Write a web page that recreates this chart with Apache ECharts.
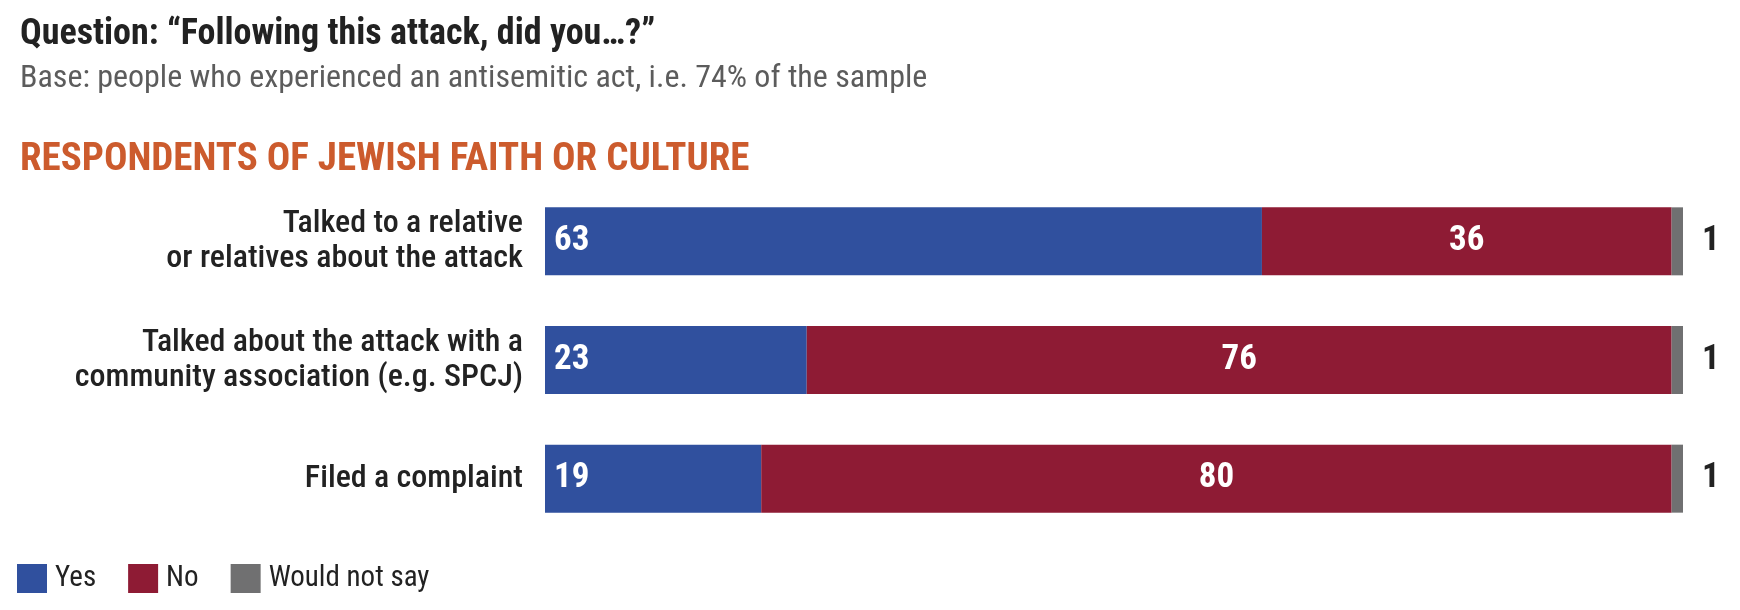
<!DOCTYPE html>
<html>
<head>
<meta charset="utf-8">
<title>Following this attack, did you...?</title>
<script src="https://cdn.jsdelivr.net/npm/echarts@6/dist/echarts.min.js"></script>
<style>
  html, body { margin: 0; padding: 0; background: #fff; }
  #chart { width: 1740px; height: 610px; }
</style>
</head>
<body>
<div id="chart"></div>
<script>
// data (percent)
var categories = [
    'Talked to a relative\nor relatives about the attack',
    'Talked about the attack with a\ncommunity association (e.g. SPCJ)',
    'Filed a complaint'
];
var seriesNames = ['Yes', 'No', 'Would not say'];
var yesValues = [63, 23, 19];
var noValues = [36, 76, 80];
var notSayValues = [1, 1, 1];

var FONT = "'Liberation Sans Narrow', 'Arial Narrow', 'Roboto Condensed', 'Liberation Sans', sans-serif";

var chart = echarts.init(document.getElementById('chart'));

var option = {
    animation: false,
    color: ['#30509e', '#8e1b34', '#707071'],
    title: [
        {
            text: 'Question: \u201CFollowing this attack, did you\u2026?\u201D',
            left: 15, top: 12,
            textStyle: { fontFamily: FONT, fontSize: 36, fontWeight: 'bold', color: '#222' }
        },
        {
            text: 'Base: people who experienced an antisemitic act, i.e. 74% of the sample',
            left: 15, top: 58,
            textStyle: { fontFamily: FONT, fontSize: 32, fontWeight: 'normal', color: '#5c5c5c' }
        },
        {
            text: 'RESPONDENTS OF JEWISH FAITH OR CULTURE',
            left: 15, top: 136,
            textStyle: { fontFamily: FONT, fontSize: 39, fontWeight: 'bold', color: '#cc5b2d' }
        }
    ],
    legend: {
        left: 17, top: 564, padding: 0,
        itemWidth: 30, itemHeight: 29, itemGap: 32,
        icon: 'rect',
        data: seriesNames,
        textStyle: { fontFamily: FONT, fontSize: 29, color: '#222', padding: [0, 0, 0, 3] }
    },
    grid: { left: 545, right: 57, top: 182, height: 356 },
    xAxis: { type: 'value', min: 0, max: 100, show: false },
    yAxis: {
        type: 'category',
        inverse: true,
        data: categories,
        axisLine: { show: false },
        axisTick: { show: false },
        axisLabel: {
            margin: 22,
            fontFamily: FONT, fontSize: 32, fontWeight: 500, lineHeight: 35, color: '#222', align: 'right'
        }
    },
    series: [
        {
            name: 'Yes', type: 'bar', stack: 'all', barWidth: 68,
            data: yesValues,
            label: {
                show: true, position: 'insideLeft', distance: 9,
                fontFamily: FONT, fontSize: 35, fontWeight: 'bold', color: '#fff'
            }
        },
        {
            name: 'No', type: 'bar', stack: 'all', barWidth: 68,
            data: noValues,
            label: {
                show: true, position: 'inside',
                fontFamily: FONT, fontSize: 35, fontWeight: 'bold', color: '#fff'
            }
        },
        {
            name: 'Would not say', type: 'bar', stack: 'all', barWidth: 68,
            data: notSayValues,
            label: {
                show: true, position: 'right', distance: 19,
                fontFamily: FONT, fontSize: 35, fontWeight: 'bold', color: '#222'
            }
        }
    ]
};

chart.setOption(option);
</script>
</body>
</html>
